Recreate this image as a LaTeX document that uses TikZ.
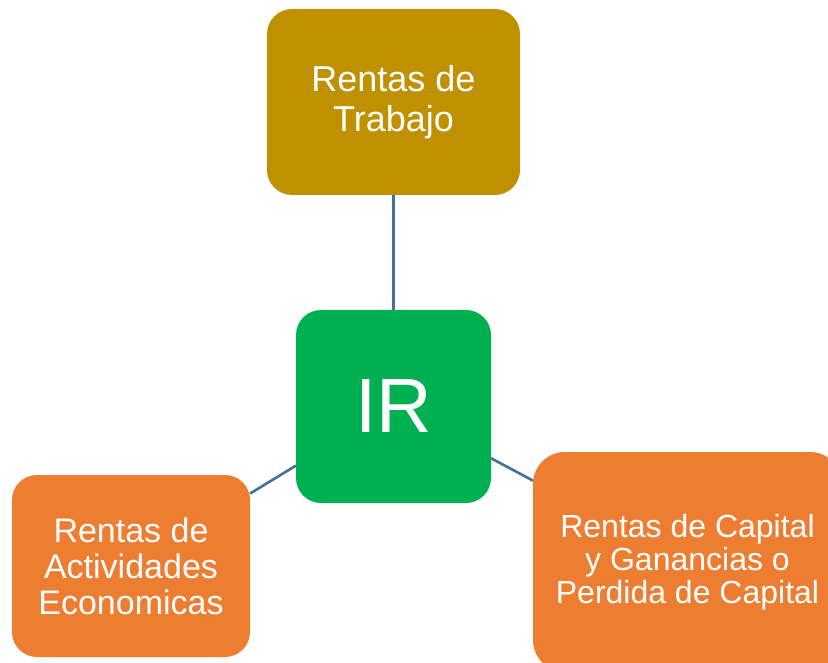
\documentclass[tikz,border=0pt]{standalone}
\usepackage{fontspec}
\setmainfont{Liberation Sans}
\usepackage{tikz}
\usetikzlibrary{positioning}
\usepackage{xcolor}
\definecolor{goldbox}{HTML}{BF9000}
\definecolor{greenbox}{HTML}{00B050}
\definecolor{orangebox}{HTML}{ED7D31}
\definecolor{linkblue}{HTML}{41719C}

\begin{document}
\begin{tikzpicture}
      [x=1pt, y=-1pt,
      link style/.style={draw=linkblue, line width=2.6pt},
      box style/.style={rectangle, rounded corners=25pt, align=center, text=white, inner sep=0pt, outer sep=0pt},
      box style1/.style={box style, fill=goldbox, minimum width=253pt, minimum height=186pt},
      box style2/.style={box style, fill=greenbox, minimum width=195pt, minimum height=193pt},
      box style3/.style={box style, fill=orangebox}
      ]
      \useasboundingbox (0,0) rectangle (828,663);

      \node[box style1, font=\fontsize{36}{40}\selectfont] (trabajo) at (393.5,102) {Rentas de\\Trabajo};
      \node[box style2, font=\fontsize{77}{88}\selectfont] (ir) at (393.5,406.5) {IR};
      \node[box style3, minimum width=238pt, minimum height=182pt, font=\fontsize{34}{36}\selectfont]
        (actividades) at (131,566) {Rentas de\\Actividades\\Economicas};
      \node[box style3, minimum width=309pt, minimum height=220pt, rounded corners=32pt, font=\fontsize{32}{33}\selectfont]
        (capital) at (687.5,562) {Rentas de Capital\\y Ganancias o\\Perdida de Capital};

      \draw[link style] (trabajo) -- (ir);
      \draw[link style] (actividades) -- (ir);
      \draw[link style] (ir) -- (capital);
\end{tikzpicture}
\end{document}
